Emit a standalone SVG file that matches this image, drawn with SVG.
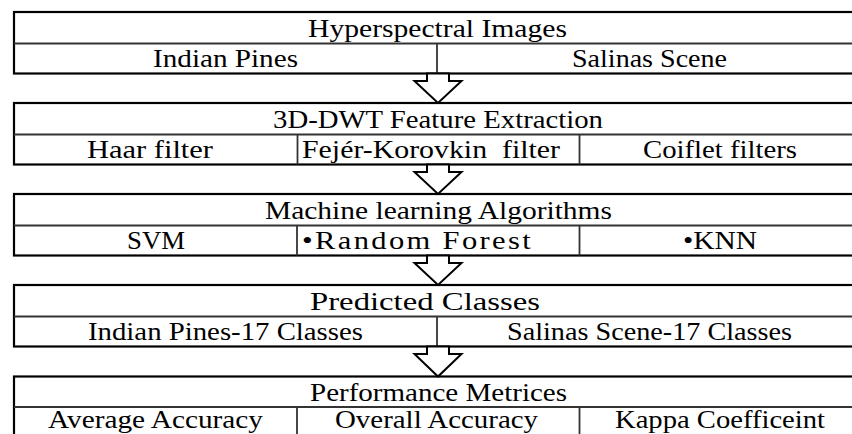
<svg xmlns="http://www.w3.org/2000/svg" width="852" height="434" viewBox="0 0 852 434">
<style>
.outer{fill:#fff;stroke:#000;stroke-width:2.2}
.inner{stroke:#333;stroke-width:1.8;fill:none}
.t{font-family:"Liberation Serif","Times New Roman",serif;font-size:26px;fill:#000}
.arr{fill:#fff;stroke:#000;stroke-width:2;stroke-linejoin:miter}
</style>
<rect width="852" height="434" fill="#fff"/>
<g id="hyperspectral">
<rect class="outer" x="14" y="12" width="848" height="61.5"/>
<line class="inner" x1="14" y1="43.5" x2="862" y2="43.5"/>
<line class="inner" x1="437" y1="43.5" x2="437" y2="73.5"/>
<text class="t" x="308" y="37" textLength="259" lengthAdjust="spacingAndGlyphs">Hyperspectral Images</text>
<text class="t" x="153" y="67" textLength="145" lengthAdjust="spacingAndGlyphs">Indian Pines</text>
<text class="t" x="572" y="67" textLength="155" lengthAdjust="spacingAndGlyphs">Salinas Scene</text>
</g>
<g id="dwt">
<rect class="outer" x="14" y="103" width="848" height="61.5"/>
<line class="inner" x1="14" y1="134.5" x2="862" y2="134.5"/>
<line class="inner" x1="297.5" y1="134.5" x2="297.5" y2="164.5"/>
<line class="inner" x1="579.5" y1="134.5" x2="579.5" y2="164.5"/>
<text class="t" x="273" y="128" textLength="330" lengthAdjust="spacingAndGlyphs">3D-DWT Feature Extraction</text>
<text class="t" x="87" y="158" textLength="126" lengthAdjust="spacingAndGlyphs">Haar filter</text>
<text class="t" x="302" y="158" textLength="258" lengthAdjust="spacingAndGlyphs">Fejér-Korovkin&#160; filter</text>
<text class="t" x="643" y="158" textLength="154" lengthAdjust="spacingAndGlyphs">Coiflet filters</text>
</g>
<g id="ml">
<rect class="outer" x="14" y="194" width="848" height="61.5"/>
<line class="inner" x1="14" y1="225.5" x2="862" y2="225.5"/>
<line class="inner" x1="297" y1="225.5" x2="297" y2="255.5"/>
<line class="inner" x1="579.5" y1="225.5" x2="579.5" y2="255.5"/>
<text class="t" x="265" y="219" textLength="347" lengthAdjust="spacingAndGlyphs">Machine learning Algorithms</text>
<text class="t" x="127" y="249" textLength="58" lengthAdjust="spacingAndGlyphs">SVM</text>
<text class="t" x="302" y="249" textLength="231" lengthAdjust="spacingAndGlyphs" letter-spacing="2">•Random Forest</text>
<text class="t" x="683" y="249" textLength="74" lengthAdjust="spacingAndGlyphs">•KNN</text>
</g>
<g id="predicted">
<rect class="outer" x="14" y="285" width="848" height="61.5"/>
<line class="inner" x1="14" y1="316.5" x2="862" y2="316.5"/>
<line class="inner" x1="437" y1="316.5" x2="437" y2="346.5"/>
<text class="t" x="310" y="310" textLength="230" lengthAdjust="spacingAndGlyphs">Predicted Classes</text>
<text class="t" x="88" y="340" textLength="275" lengthAdjust="spacingAndGlyphs">Indian Pines-17 Classes</text>
<text class="t" x="507" y="340" textLength="285" lengthAdjust="spacingAndGlyphs">Salinas Scene-17 Classes</text>
</g>
<g id="metrics">
<rect class="outer" x="14" y="376.5" width="848" height="70"/>
<line class="inner" x1="14" y1="407" x2="862" y2="407"/>
<line class="inner" x1="297" y1="407" x2="297" y2="440"/>
<line class="inner" x1="579.5" y1="407" x2="579.5" y2="440"/>
<text class="t" x="310" y="401" textLength="257" lengthAdjust="spacingAndGlyphs">Performance Metrices</text>
<text class="t" x="48" y="428" textLength="215" lengthAdjust="spacingAndGlyphs">Average Accuracy</text>
<text class="t" x="335" y="428" textLength="203" lengthAdjust="spacingAndGlyphs">Overall Accuracy</text>
<text class="t" x="615" y="428" textLength="210" lengthAdjust="spacingAndGlyphs">Kappa Coefficeint</text>
</g>
<g id="connectors">
<polygon class="arr" points="427,73.5 449,73.5 449,81 461.5,81 438,103 414.5,81 427,81"/>
<polygon class="arr" points="427,164.5 449,164.5 449,172 461.5,172 438,194 414.5,172 427,172"/>
<polygon class="arr" points="427,255.5 449,255.5 449,263 461.5,263 438,285 414.5,263 427,263"/>
<polygon class="arr" points="427,346.5 449,346.5 449,354 461.5,354 438,376.5 414.5,354 427,354"/>
</g>
</svg>
